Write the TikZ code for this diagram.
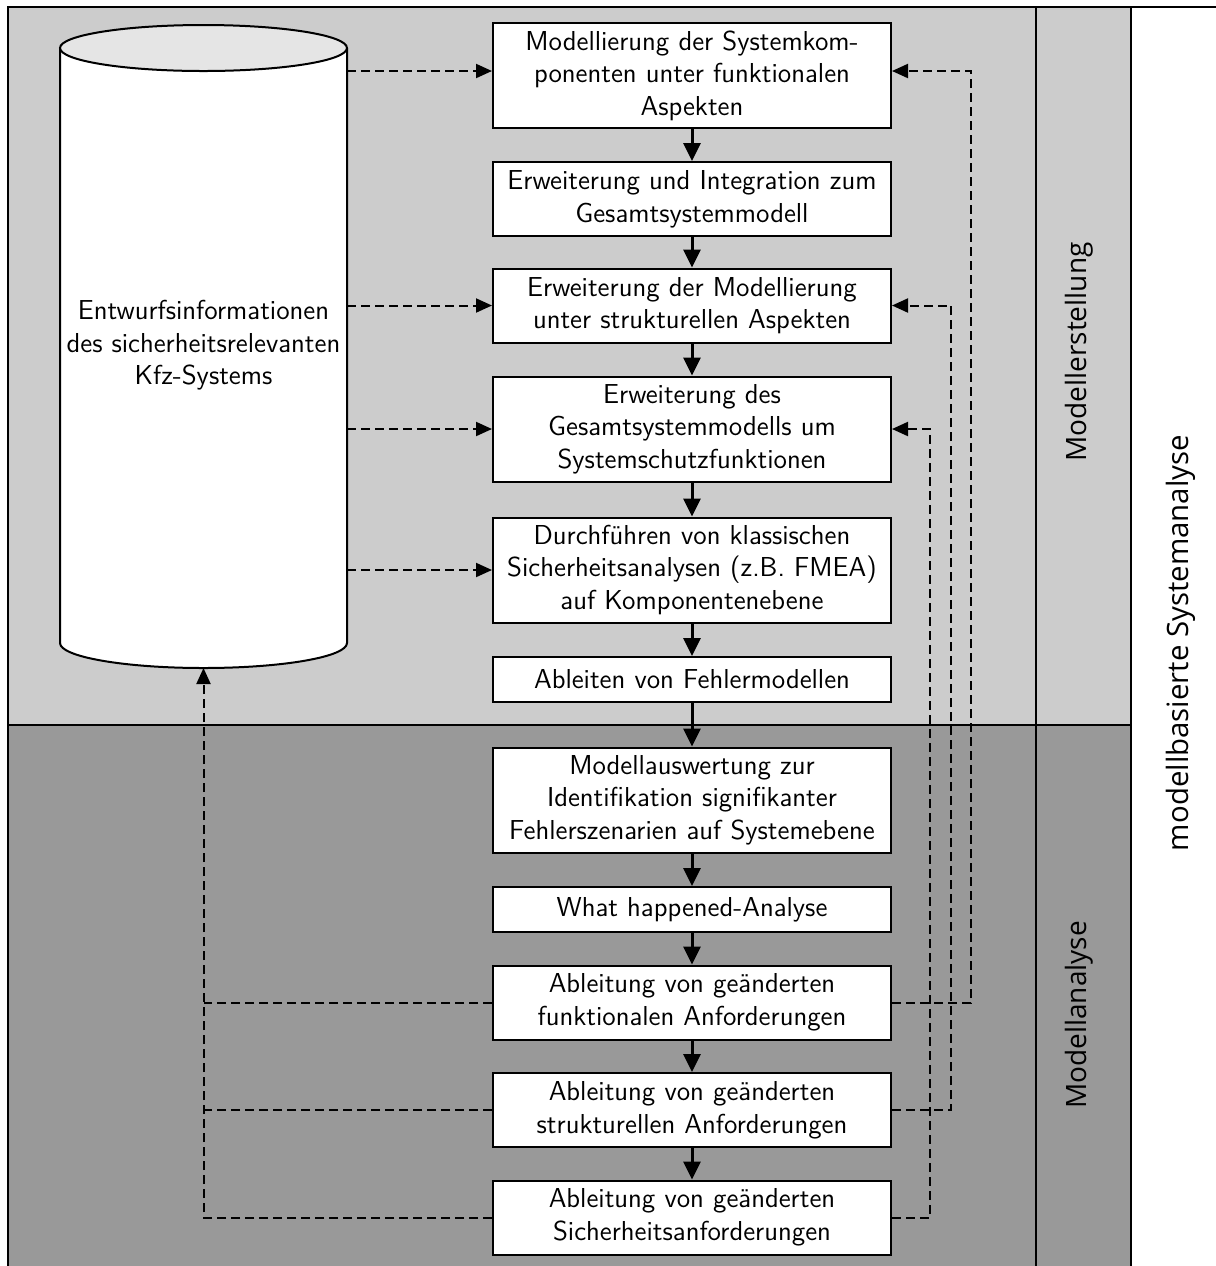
\documentclass[tikz,border=0pt]{standalone}
\usepackage{fontspec}
\newfontfamily\sidefont{Open Sans}
\usetikzlibrary{arrows.meta}
\definecolor{upperband}{gray}{0.8}
\definecolor{lowerband}{gray}{0.6}
\definecolor{captop}{gray}{0.9}

\begin{document}
\begin{tikzpicture}[x=0.5pt,y=-0.5pt,
  boxfont/.style={font=\sffamily\fontsize{13.7}{16.3}\selectfont},
  stepbox/.style={draw, line width=1pt, fill=white, minimum width=199pt,
    text width=195pt, align=center, inner sep=2pt, boxfont},
  onebox/.style={stepbox, minimum height=22.5pt},
  twobox/.style={stepbox, minimum height=37pt},
  threebox/.style={stepbox, minimum height=52.5pt},
  flow/.style={line width=1.5pt, -{Triangle[length=9pt,width=8.5pt]}},
  feedline/.style={line width=1pt, dash pattern=on 4.5pt off 2.5pt},
  feedback/.style={feedline, -{Triangle[length=8pt,width=7pt]}},
  frameline/.style={line width=0.7pt},
  sidelabel/.style={rotate=90, font=\sidefont\fontsize{14}{16}\selectfont}]

\useasboundingbox (0,0) rectangle (1216,1266);

% background bands and frame
\begin{scope}
  \clip (0,0) rectangle (1216,1266);
  \fill[upperband] (8,7) rectangle (1131,725);
  \fill[lowerband] (8,725) rectangle (1131,1290);
  \draw[frameline] (1240,7) -- (8,7) -- (8,1290);
  \draw[frameline] (1036,7) -- (1036,1290);
  \draw[frameline] (1131,7) -- (1131,1290);
  \draw[frameline] (8,725) -- (1131,725);
\end{scope}

% data store (cylinder)
\draw[line width=1pt, fill=white] (60,48) -- (60,643)
  arc[start angle=180, end angle=0, x radius=143.5, y radius=25] -- (347,48);
\draw[line width=1pt, fill=captop] (203.5,48) ellipse[x radius=143.5, y radius=23];
\node[minimum width=143.5pt, minimum height=297.5pt, inner sep=0pt, align=center,
  boxfont] (db) at (203.5,345.5)
  {Entwurfsinformationen\\des sicherheitsrelevanten\\Kfz-Systems};
\coordinate (dbbot) at (203.5,668);

% process steps
\node[threebox] (b1) at (692,75.5) {Modellierung der Systemkom-\\ponenten unter funktionalen\\Aspekten};
\node[twobox] (b2) at (692,199) {Erweiterung und Integration zum\\Gesamtsystemmodell};
\node[twobox] (b3) at (692,305.5) {Erweiterung der Modellierung\\unter strukturellen Aspekten};
\node[threebox] (b4) at (692,429) {Erweiterung des\\Gesamtsystemmodells um\\Systemschutzfunktionen};
\node[threebox] (b5) at (692,570) {Durchführen von klassischen\\Sicherheitsanalysen (z.B. FMEA)\\auf Komponentenebene};
\node[onebox] (b6) at (692,679.5) {Ableiten von Fehlermodellen};
\node[threebox] (b7) at (692,800) {Modellauswertung zur\\Identifikation signifikanter\\Fehlerszenarien auf Systemebene};
\node[onebox] (b8) at (692,909.5) {What happened-Analyse};
\node[twobox] (b9) at (692,1002.5) {Ableitung von geänderten\\funktionalen Anforderungen};
\node[twobox] (b10) at (692,1110) {Ableitung von geänderten\\strukturellen Anforderungen};
\node[twobox] (b11) at (692,1217.5) {Ableitung von geänderten\\Sicherheitsanforderungen};

% side labels
\node[sidelabel] (lab1) at (1079,352) {Modellerstellung};
\node[sidelabel] (lab2) at (1079,1015) {Modellanalyse};
\node[sidelabel, font=\sidefont\fontsize{14.7}{17}\selectfont] (lab3) at (1181,643) {modellbasierte Systemanalyse};

% main flow
\foreach \a/\b in {b1/b2,b2/b3,b3/b4,b4/b5,b5/b6,b6/b7,b7/b8,b8/b9,b9/b10,b10/b11}
  \draw[flow] (\a) -- (\b);

% helper coordinates for the feedback routes
\coordinate (topin) at (0,71);
\coordinate (rx1) at (971,0);
\coordinate (rx2) at (951,0);
\coordinate (rx3) at (930,0);

% information from the data store
\draw[feedback] (db.east |- topin) -- (b1.west |- topin);
\draw[feedback] (db.east |- b3.west) -- (b3.west);
\draw[feedback] (db.east |- b4.west) -- (b4.west);
\draw[feedback] (db.east |- b5.west) -- (b5.west);

% changed requirements back into modelling
\draw[feedback] (b9.east) -| (rx1 |- topin) -- (b1.east |- topin);
\draw[feedback] (b10.east) -| (rx2 |- b3.east) -- (b3.east);
\draw[feedback] (b11.east) -| (rx3 |- b4.east) -- (b4.east);

% changed requirements back into the data store
\draw[feedline] (b9.west) -- (dbbot |- b9.west);
\draw[feedline] (b10.west) -- (dbbot |- b10.west);
\draw[feedback] (b11.west) -| (dbbot);
\end{tikzpicture}
\end{document}
